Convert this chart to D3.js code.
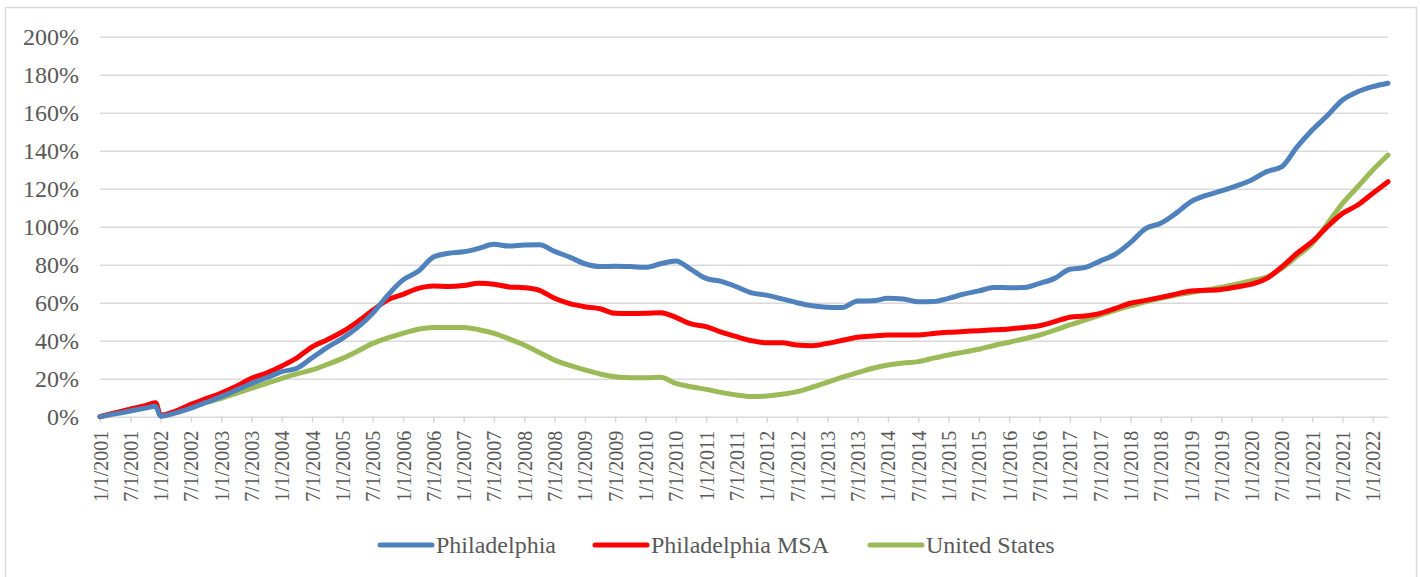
<!DOCTYPE html>
<html>
<head>
<meta charset="utf-8">
<script src="https://cdn.jsdelivr.net/npm/d3@7"></script>
<style>
  body { margin: 0; background: #fff; }
  svg { display: block; font-family: "Liberation Serif", "Times New Roman", serif; }
</style>
</head>
<body>
<div id="content"></div>
<script>
// sample months (quarterly, plus the Dec 2001 point before the reset)
const months = [
  "2001-01","2001-04","2001-07","2001-10","2001-12",
  "2002-01","2002-04","2002-07","2002-10",
  "2003-01","2003-04","2003-07","2003-10",
  "2004-01","2004-04","2004-07","2004-10",
  "2005-01","2005-04","2005-07","2005-10",
  "2006-01","2006-04","2006-07","2006-10",
  "2007-01","2007-04","2007-07","2007-10",
  "2008-01","2008-04","2008-07","2008-10",
  "2009-01","2009-04","2009-07","2009-10",
  "2010-01","2010-04","2010-07","2010-10",
  "2011-01","2011-04","2011-07","2011-10",
  "2012-01","2012-04","2012-07","2012-10",
  "2013-01","2013-04","2013-07","2013-10",
  "2014-01","2014-04","2014-07","2014-10",
  "2015-01","2015-04","2015-07","2015-10",
  "2016-01","2016-04","2016-07","2016-10",
  "2017-01","2017-04","2017-07","2017-10",
  "2018-01","2018-04","2018-07","2018-10",
  "2019-01","2019-04","2019-07","2019-10",
  "2020-01","2020-04","2020-07","2020-10",
  "2021-01","2021-04","2021-07","2021-10",
  "2022-01","2022-04"
];

// cumulative change, percent
const philadelphia = [
  0, 1.5, 3, 4.5, 5.5,
  0.3, 2, 4.5, 7.5,
  10.6, 14, 17.5, 20.5,
  23.7, 25.5, 31, 36.5,
  41.2, 47, 54.4, 64,
  72, 76.5, 84, 86,
  86.8, 88.6, 90.7, 89.8,
  90.4, 90.5, 87, 84,
  80.5, 79, 79.2, 79,
  78.6, 80.5, 82, 77.5,
  72.8, 71.2, 68.4, 65.2,
  64, 62, 60, 58.4,
  57.6, 57.5, 60.9, 61,
  62.3, 62, 60.5, 60.6,
  62.3, 64.5, 66.2, 68,
  67.9, 68, 70.2, 72.8,
  77.6, 78.5, 81.9, 85.5,
  91.6, 99, 101.8, 107,
  113.2, 116.5, 118.8, 121.5,
  124.6, 129, 131.6, 142,
  150.9, 158.5, 166.7, 171,
  173.7, 175.5
];

const philadelphiaMSA = [
  0, 2, 4, 5.8, 7.3,
  0.8, 3, 6.5, 9.5,
  12.5, 16, 20.2, 23,
  26.7, 31, 36.8, 40.5,
  44.7, 50, 56, 61.5,
  64.4, 67.5, 68.8, 68.5,
  69, 70.2, 69.7, 68.3,
  67.9, 66.5, 62.3, 59.5,
  57.9, 56.8, 54.4, 54.3,
  54.4, 54.7, 52.3, 48.8,
  47.4, 44.5, 42.1, 40,
  38.9, 38.9, 37.7, 37.4,
  38.6, 40.2, 41.8, 42.5,
  43, 43, 43, 43.8,
  44.4, 44.8, 45.3, 45.7,
  46.2, 47, 47.9, 50,
  52.3, 53, 54.4, 57,
  59.7, 61.2, 62.8, 64.5,
  66.2, 66.5, 67, 68.3,
  69.8, 72.8, 78.9, 86,
  92.1, 100, 107, 111.4,
  117.6, 123.7
];

const unitedStates = [
  0, 2, 4, 5.5, 7,
  0.5, 2.5, 5.5, 7.5,
  9.7, 12.3, 15, 17.5,
  20.2, 22.5, 24.6, 27.5,
  30.7, 34.5, 38.6, 41.5,
  43.9, 46, 47, 47,
  47, 45.8, 43.9, 41,
  37.7, 33.8, 29.8, 27,
  24.6, 22.5, 21, 20.5,
  20.5, 20.8, 17.5, 15.8,
  14.4, 12.8, 11.4, 10.6,
  10.9, 11.8, 13.2, 15.5,
  18.1, 20.8, 23.2, 25.5,
  27.2, 28.3, 29, 30.8,
  32.5, 34, 35.5, 37.5,
  39.2, 41, 43, 45.5,
  48.3, 50.8, 53.5, 56,
  58.3, 60.5, 62.3, 64,
  65.3, 66.7, 68.1, 69.8,
  71.6, 73.5, 78.1, 84.5,
  91.2, 101.5, 112.3, 121,
  129.8, 137.7
];

const seriesNames = ["Philadelphia", "Philadelphia MSA", "United States"];
const yTicks = [0, 20, 40, 60, 80, 100, 120, 140, 160, 180, 200];
const firstMonth = "2001-01", lastMonth = "2022-04";

const colors = ["#4f81bd", "#ff0000", "#9bbb59"];

// months since Jan 2001
function monthIndex(s) {
  const p = s.split("-");
  return (+p[0] - 2001) * 12 + (+p[1] - 1);
}

const svg = d3
  .select("#content")
  .append("svg")
  .attr("width", 1420)
  .attr("height", 577);

// chart area border
svg
  .append("rect")
  .attr("x", 5.5)
  .attr("y", 7.5)
  .attr("width", 1411)
  .attr("height", 580)
  .attr("fill", "#fff")
  .attr("stroke", "#d9d9d9")
  .attr("stroke-width", 1.5);

const plotLeft = 100, plotRight = 1388, plotTop = 36.7, plotBottom = 416.7;

const x = d3
  .scaleLinear()
  .domain([monthIndex(firstMonth), monthIndex(lastMonth)])
  .range([plotLeft, plotRight]);

const y = d3.scaleLinear().domain([0, 200]).range([plotBottom, plotTop]);

// gridlines
const grid = svg
  .append("g")
  .attr("transform", `translate(${plotLeft},0)`)
  .call(d3.axisLeft(y).tickValues(yTicks.slice(1)).tickSize(-(plotRight - plotLeft)).tickFormat(""));
grid.select(".domain").remove();
grid.selectAll("line").attr("stroke", "#d9d9d9").attr("stroke-width", 1.5);

// y labels
const yAxis = svg
  .append("g")
  .attr("transform", `translate(${plotLeft},0)`)
  .call(d3.axisLeft(y).tickValues(yTicks).tickSize(0).tickPadding(21).tickFormat(d => d + "%"));
yAxis.select(".domain").remove();
yAxis
  .selectAll("text")
  .attr("font-family", "Liberation Serif")
  .attr("font-size", 24)
  .attr("fill", "#595959");

// x axis, a label every 6 months
const xTickVals = d3.range(0, monthIndex(lastMonth) + 1, 6);
const xAxis = svg
  .append("g")
  .attr("transform", `translate(0,${plotBottom})`)
  .call(
    d3
      .axisBottom(x)
      .tickValues(xTickVals)
      .tickSize(6)
      .tickSizeOuter(0)
      .tickFormat(d => (d % 12) + 1 + "/1/" + (2001 + Math.floor(d / 12)))
  );
xAxis.select(".domain").attr("stroke", "#d9d9d9").attr("stroke-width", 1.5);
xAxis.selectAll("line").attr("stroke", "#d9d9d9").attr("stroke-width", 1.5);
xAxis
  .selectAll("text")
  .attr("font-family", "Liberation Serif")
  .attr("font-size", 20)
  .attr("fill", "#595959")
  .attr("text-anchor", "end")
  .attr("transform", "rotate(-90)")
  .attr("x", -14)
  .attr("y", 0)
  .attr("dy", "0.35em");

// lines
const allSeries = [philadelphia, philadelphiaMSA, unitedStates];

const line = d3
  .line()
  .x((d, i) => x(monthIndex(months[i])))
  .y(d => y(d))
  .curve(d3.curveMonotoneX);

svg
  .append("g")
  .selectAll("path")
  .data(allSeries.slice().reverse())
  .enter()
  .append("path")
  .attr("fill", "none")
  .attr("stroke", (d, i) => colors[2 - i])
  .attr("stroke-width", 5)
  .attr("stroke-linejoin", "round")
  .attr("stroke-linecap", "round")
  .attr("d", line);

// legend
const legendX = [378, 593, 868];
const legend = svg
  .append("g")
  .selectAll("g")
  .data(seriesNames)
  .enter()
  .append("g")
  .attr("transform", (d, i) => `translate(${legendX[i]},545)`);

legend
  .append("line")
  .attr("x1", 2)
  .attr("x2", 54)
  .attr("stroke", (d, i) => colors[i])
  .attr("stroke-width", 5)
  .attr("stroke-linecap", "round");

legend
  .append("text")
  .attr("x", 58)
  .attr("dy", "0.35em")
  .attr("font-size", 24)
  .attr("fill", "#595959")
  .text(d => d);
</script>
</body>
</html>
